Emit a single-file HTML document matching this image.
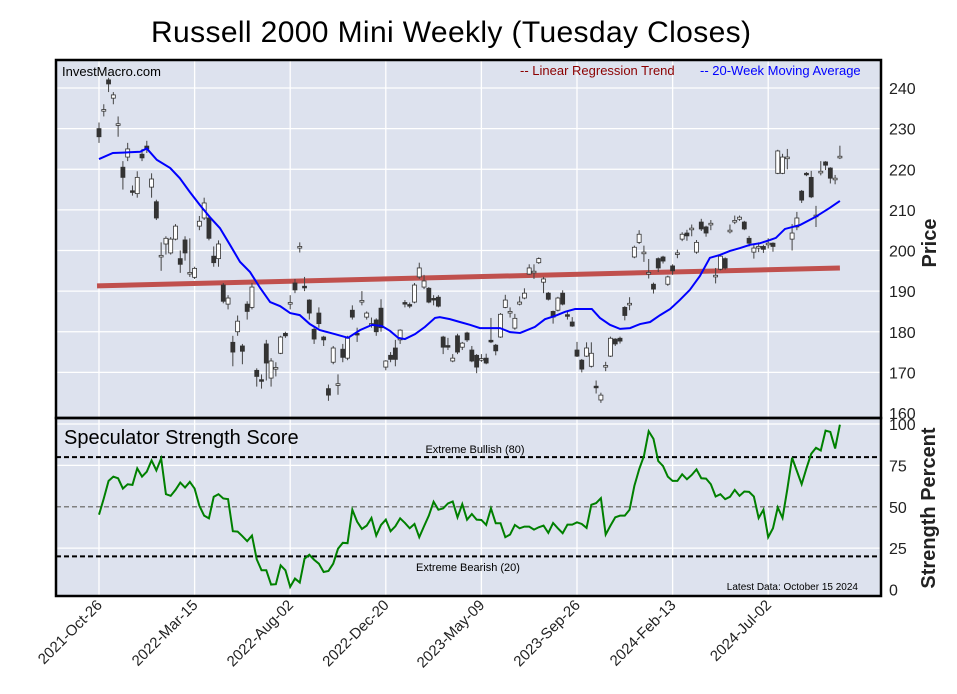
<!DOCTYPE html>
<html><head><meta charset="utf-8"><style>
html,body{margin:0;padding:0;background:#fff;}
svg{display:block;font-family:"Liberation Sans",Arial,sans-serif;}
</style></head><body>
<svg id="chart" width="957" height="694" viewBox="0 0 957 694" xmlns="http://www.w3.org/2000/svg">
<rect x="0" y="0" width="957" height="694" fill="#fff"/>
<text x="451" y="42" font-size="30" text-anchor="middle" textLength="600" fill="#000">Russell 2000 Mini Weekly (Tuesday Closes)</text>
<rect x="56" y="60" width="825" height="358" fill="#dde2ee"/>
<rect x="56" y="418" width="825" height="178" fill="#dde2ee"/>
<g id="grid"></g>
<g id="marks"></g>
<text x="62" y="76" font-size="13" fill="#000">InvestMacro.com</text>
<text x="520" y="75" font-size="13" fill="#8b0000">-- Linear Regression Trend</text>
<text x="700" y="75" font-size="13" fill="#0000ff">-- 20-Week Moving Average</text>
<text x="64" y="444" font-size="20" fill="#000">Speculator Strength Score</text>
<text x="475" y="453" font-size="11" text-anchor="middle" fill="#000">Extreme Bullish (80)</text>
<text x="468" y="571" font-size="11" text-anchor="middle" fill="#000">Extreme Bearish (20)</text>
<text x="858" y="590" font-size="10" text-anchor="end" fill="#000">Latest Data: October 15 2024</text>
<rect x="56" y="60" width="825" height="358" fill="none" stroke="#000" stroke-width="2.5"/>
<rect x="56" y="418" width="825" height="178" fill="none" stroke="#000" stroke-width="2.5"/>
<text transform="translate(936,243) rotate(-90)" font-size="20" font-weight="bold" text-anchor="middle" fill="#222">Price</text>
<text transform="translate(935,508) rotate(-90)" font-size="20" font-weight="bold" text-anchor="middle" fill="#222">Strength Percent</text>
</svg>
<script>
const opens=[230,234.3,242,237.5,230.8,220.5,223,214.7,214,223.7,225.7,215.6,212,198.4,201.6,199.4,202.8,198,202.6,194.2,193.4,206,208,208,198.6,198,191.5,186.8,177.4,180,176.5,186.8,186,170.5,168.2,177,168.6,170.8,174.7,179.6,186.8,192,200.6,191.2,187.8,180.6,184.6,178.7,166,172.5,166.8,175.7,173.5,185.3,179.6,187.3,183.6,181.6,182.9,185.8,171.3,174.2,176,178,187.2,186.7,187.3,193.5,191,190.7,188.2,188.5,178.7,176.6,172.8,179,176.2,179.7,175.5,174.2,173,173.5,177.9,176.7,178.7,186,184.6,180.9,186.8,188.3,194.2,194.5,197,192.2,189.5,185,185.3,189.5,184.2,182.4,175.5,173,174,171.5,166.6,163.2,171.3,174,178.2,178.4,186,186.6,198.4,202,199.2,194.2,191.7,198,198.4,191.7,196.2,199.1,202.8,204.3,205.1,199.6,207,205.8,206.3,193.5,195.4,198,204.6,207,207.7,207,203,199.6,200.6,201,201.4,201.8,219,219,222.6,202.8,205.8,214.6,219,218,208.3,219.1,221.8,220.3,217.4,222.8];
const closes=[228,234.7,241,238.3,231.2,218,225,214.3,218,222.8,225,217.6,208,198.8,203,202.8,206,196.6,199.4,194.6,195.6,207.2,211.7,203,197,201.6,187.5,188.3,175,182.6,175.2,185,191,169,167.8,172.3,172.8,171.2,178.7,179,187.2,190.3,201,190.8,184.6,178.2,182,178,164.4,176,167.2,173.7,178.4,183.6,179.2,187.7,184.6,182,180,181,172.8,173.2,173.2,180.4,186.8,186.3,191.5,195.7,192.5,187.3,187.8,186.3,176.2,176.2,173.5,175,177.2,178,172.8,171.3,173.4,172.3,177.5,175.3,184.3,187.8,185,183.3,187.3,189.5,195.7,194.9,198,193,188,183.6,188.3,186.8,183.8,181.4,174,170.8,176,174.7,166.2,164.4,171.7,178.4,177,177.7,184,187,200.8,204,199.6,194.6,190.5,195.7,197.4,193.5,195,199.4,204,203.6,205.5,202,205.3,204.3,206.7,193.9,198.6,195.7,205,207.4,208.2,205.3,201.8,200.6,201,200.3,201.8,201,224.5,223,223,204.3,208,212.4,218.8,213.2,208.7,219.5,221,217.8,217.8,223.2];
const highs=[231.5,236,242.5,239,233,222,226.5,216,219.5,225,227,219,212.5,202,203.5,203.3,206.5,200,203.5,203,196,208.5,213,208.5,201,202.5,192,189,179,184,177,187.5,192,171,169.5,178,173.5,172.5,179,180,189,193,202,193.5,188,181,186,179,167,176.5,169.5,177,179,186.5,181,190,185,183.5,183.3,188,173,175,178,180.6,187.8,187.2,192,197,194,191,189,189,179,178.5,174.5,179.5,177.5,180,176.5,174.5,174.5,174.6,183.4,177,184.6,189.1,186,184.4,188.7,190.7,196.6,196.6,198.3,193.5,189.8,185.2,188.6,190.2,185,183.6,177.5,173.3,177.4,177.4,168,165,172.6,178.8,178.4,178.8,186.3,188.5,201.2,205,201.2,197.9,192.1,198.3,198.7,193.8,196.6,200.2,204.5,205.1,206.4,202.6,207.8,206.1,207.5,195.7,199.1,198.3,206.4,208.6,208.6,207.3,203.6,201.4,202,201.4,203,202,224.8,223.8,225,206.5,209.5,214.9,219.3,219.6,211,222,222,220.5,218.6,225.8];
const lows=[226.5,233,239,236,228,215,222,213.5,213,222,224,213,207.5,195,199,199,202.5,194.5,197.5,193.5,193,205,207.5,202.5,196,196,187,185.5,171.5,179,172,183,185.5,166.5,166,168,166.5,169,174.5,178.5,185.5,189.5,199.5,190,183,177,181,176.5,163,172,164.5,172.5,173,183,177.5,186.5,183,181,179,180,170.5,172.5,171.5,177,186,185.8,187,193,190.5,187,186.5,186,174.5,175.5,172.5,174.5,175.5,177.5,172.5,169.8,172.6,172,177.2,174.2,178.5,185.8,183.5,180.5,186.5,188,194,193,196.7,189.5,187.7,182,185,186.5,183,181.2,173.8,170,173.8,171.2,164.8,162.5,170.3,173.8,176.5,177.1,182.8,185.3,198.1,201.6,197.2,193.1,189.4,194.7,196.8,191.3,194,198.1,202.3,202.4,203.5,199.2,204.8,203.4,205,191.9,195.1,195.3,204.2,206.5,207.3,205,201,198,199.6,199.4,200.5,199.7,218.8,218.8,220,200,205,211.7,218.3,212.9,205.8,218.5,219.8,216.5,216.3,222.5];
const maWeeks=[0,2.9,5,8.6,10,12.1,14.9,16.9,19,21.1,23.2,25.3,27.4,29.5,31.6,33.7,35.8,37.9,40,42,44.1,46.2,49.4,52.1,54.6,57.1,59.2,60.9,62.6,64,66.1,68.2,70.3,71.3,73.4,75.5,77.6,79.7,81.8,83.9,86,88.1,91.2,93.3,95.4,97.5,99.6,101.7,103.1,104.8,106.9,109,111.1,113.2,115.3,117.4,119.5,121.5,123.6,125.7,127.8,129.9,132,134.1,136.2,138.3,140.4,141.6,143.5,146.7,149.8,152.9,155];
const maValues=[222.5,224,224.1,224.3,225.1,222.3,220.3,217.8,214.4,211.2,208.2,205.5,201.4,197.2,194.7,190.8,187.3,186.3,184.6,184.1,181.9,180.4,179.4,178.5,180.4,181.7,181.4,180.2,178.5,178.2,179.4,181.2,183.4,183.6,183.1,182.4,181.7,180.9,180.9,180.9,179.9,179.7,181.2,183.1,183.9,184.9,185.6,185.6,185.6,183.4,181.7,180.7,180.9,181.9,182.4,184.1,185.6,187.8,190.3,193.7,198.2,198.9,199.9,200.6,201.4,201.8,202.6,203.1,205.3,206.3,208.2,210.5,212.2];
const regStart=191.3, regEnd=195.7;
const strength=[45.2,55,65.6,68.2,67.2,61,63.6,63.2,73.2,68.2,71.2,78,72,79.2,57.6,56.6,60.2,64.6,61.6,65,61,50.6,44.6,43,56,57.6,55,54.6,35.2,35,32.2,29.2,32.6,18.2,11.6,11.6,3,3.2,14.6,11.6,1.6,6.6,4.2,18.6,21,18,15.6,10.6,11.2,15.6,24.6,28.2,28,48.2,41,36.6,38.6,43.2,32.6,39,42.2,35.2,38.2,43,40.2,37,39.6,31.6,38.2,44.6,53,48.2,49,52,53.2,43.6,51.6,42.2,45.6,42.2,42,39,49,40,40,31.6,33.2,39,37,38,38,36.2,37.6,38.6,34.2,40.2,37,34,39.2,39.2,40.6,39.6,37.2,51.2,52.2,55.2,33.2,38.6,43.6,44.6,44.6,48.2,62.6,72.6,80.6,95.6,91,77.6,74.6,68.2,65.6,65.6,69.6,66.6,69.2,72.6,67.2,67,63.6,56.2,57.6,54.6,56,60.2,56.6,59.2,59,56.2,43.2,48.2,31.6,37,49.6,43.2,60.6,79.6,71.6,63.6,73.2,82,85.6,84,96,95.2,85.2,99.6];
const priceTicks=[160,170,180,190,200,210,220,230,240];
const strengthTicks=[0,25,50,75,100];
const dateLabels=["2021-Oct-26","2022-Mar-15","2022-Aug-02","2022-Dec-20","2023-May-09","2023-Sep-26","2024-Feb-13","2024-Jul-02"];
const dateWeeks=[0,20,40,60,80,100,120,140];

const NS="http://www.w3.org/2000/svg";
const xs=i=>99+i*4.78;
const yp=v=>88+(240-v)*4.0625;
const ys=v=>589.5-v*1.655;
const grid=document.getElementById('grid'), marks=document.getElementById('marks'), svg=document.getElementById('chart');
function mk(tag,attrs,parent){const e=document.createElementNS(NS,tag);for(const k in attrs)e.setAttribute(k,attrs[k]);parent.appendChild(e);return e;}

priceTicks.forEach(v=>{
  if(v>160){const l=mk('line',{x1:56,x2:881,y1:yp(v),y2:yp(v),stroke:'#fff','stroke-width':1.3},grid);
  
  }
  const t=mk('text',{x:889,y:yp(v)+6,'font-size':16,fill:'#222'},svg);t.textContent=v;
  
  
});
strengthTicks.forEach(v=>{
  if(v!==50&&v>0){const l=mk('line',{x1:56,x2:881,y1:ys(v),y2:ys(v),stroke:'#fff','stroke-width':1.3},grid);
  
  }
  const t=mk('text',{x:889,y:ys(v)+6,'font-size':16,fill:'#222'},svg);t.textContent=v;
  
  
});
dateWeeks.forEach((w,k)=>{
  const x=xs(w);
  const l=mk('line',{x1:x,x2:x,y1:60,y2:596,stroke:'#fff','stroke-width':1.3},grid);
  
  
  const t=mk('text',{transform:`translate(${x+4},${606}) rotate(-45)`,'font-size':15,'text-anchor':'end',fill:'#222'},svg);
  t.textContent=dateLabels[k];
  
  
});
// reference lines
[[80,'#000',2],[20,'#000',2],[50,'#808080',1.6]].forEach(([v,c,w])=>{
  const l=mk('line',{x1:56,x2:881,y1:ys(v),y2:ys(v),stroke:c,'stroke-width':w,'stroke-dasharray':'5,3'},grid);
  
  
});
// regression
const reg=mk('line',{x1:xs(0)-2,y1:yp(regStart),x2:xs(opens.length-1),y2:yp(regEnd),stroke:'#c0504d','stroke-width':5},marks);


// candles
opens.forEach((o,i)=>{
  const c=closes[i],x=xs(i);
  const g=mk('g',{},marks);
  
  
  mk('line',{x1:x,x2:x,y1:yp(highs[i]),y2:yp(lows[i]),stroke:'#444','stroke-width':1},g);
  const top=yp(Math.max(o,c)),bot=yp(Math.min(o,c));
  const up=c>=o;
  mk('rect',{x:x-2,y:top,width:4,height:Math.max(bot-top,1.5),fill:up?'#fff':'#333',stroke:'#333','stroke-width':0.8},g);
});
// MA
const ma=mk('polyline',{points:maWeeks.map((w,k)=>xs(w)+','+yp(maValues[k])).join(' '),fill:'none',stroke:'#0000ff','stroke-width':2},marks);


// strength
const st=mk('polyline',{points:strength.map((v,i)=>xs(i)+','+ys(v)).join(' '),fill:'none',stroke:'#008000','stroke-width':2},marks);


</script>
</body></html>
